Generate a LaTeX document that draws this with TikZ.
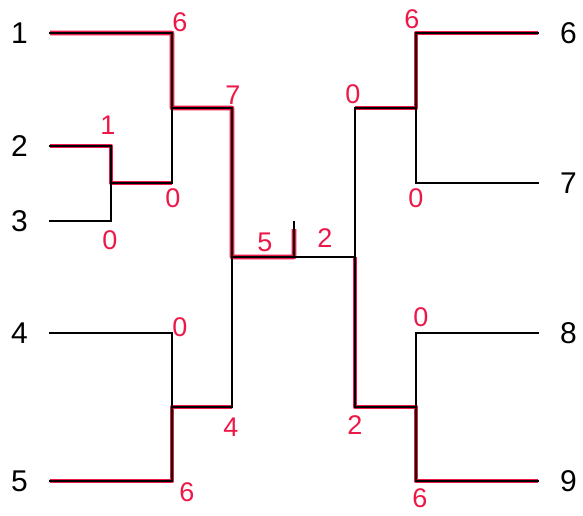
\documentclass[tikz,border=0pt]{standalone}
\usepackage{fontspec}
\setmainfont{Liberation Sans}
\usepackage{xcolor}
\usetikzlibrary{positioning,calc}
\definecolor{scorered}{RGB}{236,24,72}
\tikzset{
  seed/.style={font=\fontsize{30}{30}\selectfont, inner sep=0pt},
  score/.style={font=\fontsize{27}{27}\selectfont, text=scorered, inner sep=0pt},
  bracket/.style={line width=2.6pt, draw=black, line cap=rect},
  winner/.style={line width=4.6pt, draw=scorered, line join=round, shift={(-2.6pt,2.6pt)}}
}

\begin{document}
\begin{tikzpicture}[x=1pt, y=-1pt]
  \useasboundingbox (0,0) rectangle (583,516);
  % left half
  \coordinate (a1) at (50,33);   \coordinate (r1) at (172,33);
  \coordinate (a2) at (50,146);  \coordinate (r2) at (111,146);
  \coordinate (a3) at (50,221);  \coordinate (r3) at (111,221);
  \coordinate (m23) at (111,183); \coordinate (q23) at (172,183);
  \coordinate (m123) at (172,108); \coordinate (q123) at (232,108);
  \coordinate (a4) at (50,333);  \coordinate (r4) at (172,333);
  \coordinate (a5) at (50,481);  \coordinate (r5) at (172,481);
  \coordinate (m45) at (172,407); \coordinate (q45) at (232,407);
  % final
  \coordinate (mL) at (232,257); \coordinate (fin) at (294,257);
  \coordinate (fintop) at (294,222); \coordinate (mR) at (355,257);
  % right half
  \coordinate (b6) at (538,33);  \coordinate (r6) at (416,33);
  \coordinate (b7) at (538,183); \coordinate (r7) at (416,183);
  \coordinate (m67) at (416,108); \coordinate (q67) at (355,108);
  \coordinate (b8) at (538,333); \coordinate (r8) at (416,333);
  \coordinate (b9) at (538,481); \coordinate (r9) at (416,481);
  \coordinate (m89) at (416,407); \coordinate (q89) at (355,407);

  % winners
  \draw[winner] (a1) -- (r1) -- (m123) -- (q123) -- (mL) -- (fin) -- ($(fin)!0.8!(fintop)$);
  \draw[winner] (a2) -- (r2) -- (m23) -- (q23);
  \draw[winner] (a5) -- (r5) -- (m45) -- (q45);
  \draw[winner] (b6) -- (r6) -- (m67) -- (q67);
  \draw[winner] (mR) -- (q89) -- (m89) -- (r9) -- (b9);

  % bracket lines
  \draw[bracket] (a2) -| (r3) -- (a3);
  \draw[bracket] (a1) -| (q23) -- (m23);
  \draw[bracket] (a4) -| (r5) -- (a5);
  \draw[bracket] (m123) -- (q123) -- (q45) -- (m45);
  \draw[bracket] (mL) -- (mR);
  \draw[bracket] (fin) -- (fintop);
  \draw[bracket] (m67) -- (q67) -- (q89) -- (m89);
  \draw[bracket] (b6) -| (r7) -- (b7);
  \draw[bracket] (b8) -| (r9) -- (b9);

  % seeds
  \node[seed, left=22pt of a1] (n1) {1};
  \node[seed, left=22pt of a2] (n2) {2};
  \node[seed, left=22pt of a3] (n3) {3};
  \node[seed, left=22pt of a4] (n4) {4};
  \node[seed, left=22pt of a5] (n5) {5};
  \node[seed, right=22pt of b6] (n6) {6};
  \node[seed, right=22pt of b7] (n7) {7};
  \node[seed, right=22pt of b8] (n8) {8};
  \node[seed, right=22pt of b9] (n9) {9};

  % scores
  \node[score] (s1) at (180,22) {6};
  \node[score] (s2) at (108,125) {1};
  \node[score] (s3) at (110,240) {0};
  \node[score] (s23) at (173,198) {0};
  \node[score] (s123) at (233,95) {7};
  \node[score] (s4) at (180,327) {0};
  \node[score] (s5) at (187,492) {6};
  \node[score] (s45) at (231,427) {4};
  \node[score] (sl) at (265,242) {5};
  \node[score] (sr) at (325,238) {2};
  \node[score] (s6) at (412,19) {6};
  \node[score] (s7) at (416,198) {0};
  \node[score] (s67) at (353,94) {0};
  \node[score] (s8) at (421,317) {0};
  \node[score] (s9) at (420,498) {6};
  \node[score] (s89) at (355,425) {2};
\end{tikzpicture}
\end{document}
